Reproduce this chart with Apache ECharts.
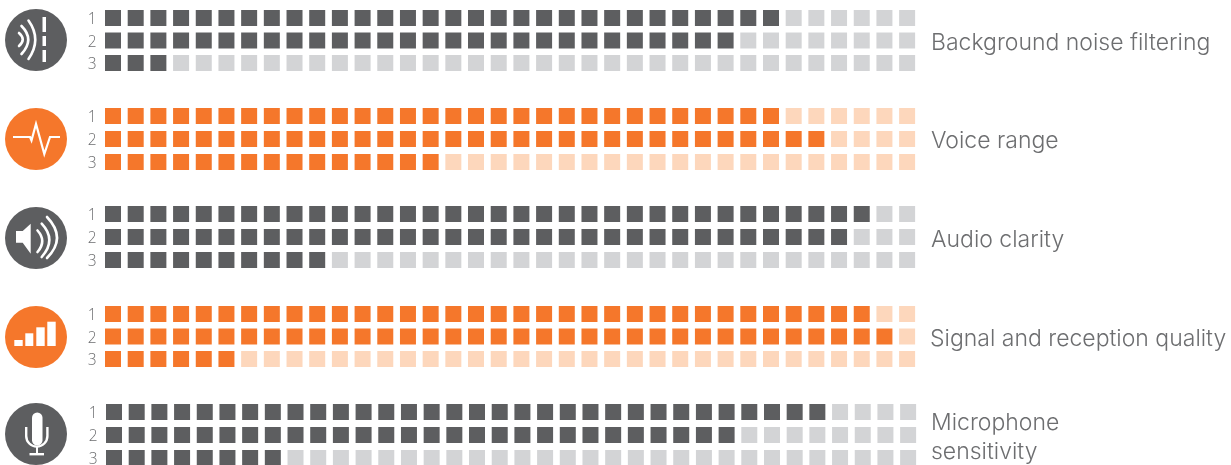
<!DOCTYPE html>
<html><head><meta charset="utf-8">
<style>html,body{margin:0;padding:0;background:#fff;overflow:hidden}#c{width:1231px;height:465px}</style>
<script src="https://cdn.jsdelivr.net/npm/echarts@6/dist/echarts.min.js"></script>
</head><body><div id="c"></div>
<script>
const columns = Array.from({length:36},(_,i)=>String(i+1));
const rowLabels = ['1','2','3'];
const featureNames = ['Background noise filtering','Voice range','Audio clarity','Signal and reception quality','Microphone\nsensitivity'];
const backgroundNoise = [30,28,3];
const voiceRange = [30,32,15];
const audioClarity = [34,33,10];
const signalQuality = [34,35,6];
const micSensitivity = [32,28,8];
const groupValues = [backgroundNoise,voiceRange,audioClarity,signalQuality,micSensitivity];

const DARK='#5d5e60',DARK_L='#d3d4d6',OR='#f5772b',OR_L='#fdd7bc',TXT='#6d6e70';
const gridTop=[18,116,214,314,412];
const gridH=[45,46,46,45,46];
const gridLeft=[101.66,101.66,101.66,101.66,102.66];
const circleY=[40,139,238,337,434];
const textY=[43,141,240,339,438];
const textX=[931,931,931,930,931];

const grids=[],xAxes=[],yAxes=[],series=[],graphic=[];
groupValues.forEach((vals,g)=>{
  const on=g%2===1?OR:DARK, off=g%2===1?OR_L:DARK_L;
  grids.push({left:gridLeft[g],top:gridTop[g],width:816.8,height:gridH[g],outerBoundsMode:'none',containLabel:false});
  xAxes.push({gridIndex:g,type:'category',data:columns,show:false});
  yAxes.push({gridIndex:g,type:'category',data:rowLabels,inverse:true,boundaryGap:false,
    axisLine:{show:false},axisTick:{show:false},splitLine:{show:false},
    axisLabel:{margin:5,formatter:'{n|{value}}',
      rich:{n:{color:TXT,fontFamily:'Open Sans',fontSize:15.5,fontWeight:300,padding:[4,0,0,0]}}}});
  const a=[],b=[];
  vals.forEach((n,r)=>columns.forEach((c,i)=>(i<n?a:b).push([i,r])));
  const mk=(d,col)=>({type:'scatter',xAxisIndex:g,yAxisIndex:g,data:d,symbol:'rect',symbolSize:16,clip:false,
    itemStyle:{color:col,opacity:1},silent:true,animation:false});
  series.push(mk(a,on),mk(b,off));
  graphic.push({type:'circle',silent:true,shape:{cx:36,cy:circleY[g],r:31},style:{fill:on}});
  graphic.push({type:'text',silent:true,x:textX[g],y:textY[g],style:{text:featureNames[g],fill:TXT,
    font:'300 23px Inter',lineHeight:29,textAlign:'left',textVerticalAlign:'middle',verticalAlign:'middle'}});
});
const sw={fill:'none',stroke:'#fff',lineCap:'round'};
const curve=(x1,y1,cx,cy,x2,y2)=>({type:'bezierCurve',silent:true,shape:{x1,y1,x2,y2,cpx1:cx,cpy1:cy},style:{...sw,lineWidth:2.6}});
const box=(x,y,width,height,r)=>({type:'rect',silent:true,shape:{x,y,width,height,r:r||0},style:{fill:'#fff'}});
const poly=points=>({type:'polygon',silent:true,shape:{points},style:{fill:'#fff'}});
const pline=(points,w,cap)=>({type:'polyline',silent:true,shape:{points},style:{fill:'none',stroke:'#fff',lineWidth:w,lineCap:cap||'butt',lineJoin:'miter'}});
graphic.push(
  curve(19,33,26.5,39.5,19,46),
  curve(21.5,26,35,39.5,21.5,54),
  curve(28.5,20.5,42,39.5,28.5,59),
  box(42.5,17,3.5,15),box(42.5,36,3.5,10),box(42.5,50,3.5,12),
  pline([[13,137],[30,137],[31.5,140.5],[36,124],[44.3,154],[50,137],[60,137]],2.2),
  poly([[16,231],[22.7,231],[30.7,223.7],[30.7,253.7],[22.7,242.7],[16,242.7]]),
  curve(37.5,230.5,47,241,37.5,252),
  curve(41.7,223.7,57,240,41.7,257),
  curve(47,217,67,238,47,258),
  box(14.3,340,8.4,6),box(25.3,333.3,8,12.7),box(36.3,327.3,8.4,18.7),box(47.3,321.7,8.4,24.3),
  box(32,412.5,10.5,33,5.2),
  pline([[26.2,427],[26.2,436]],2.4),pline([[47.4,427],[47.4,436]],2.4),
  {type:'arc',silent:true,shape:{cx:36.8,cy:436,r:10.6,startAngle:0,endAngle:Math.PI,clockwise:true},style:{fill:'none',stroke:'#fff',lineWidth:2.4}},
  box(36,447,2,6),box(29.5,453,14.5,2.4)
);
const chart=echarts.init(document.getElementById('c'),null,{renderer:'canvas'});
chart.setOption({animation:false,backgroundColor:'#fff',grid:grids,xAxis:xAxes,yAxis:yAxes,series,graphic:{elements:graphic}});
</script></body></html>
